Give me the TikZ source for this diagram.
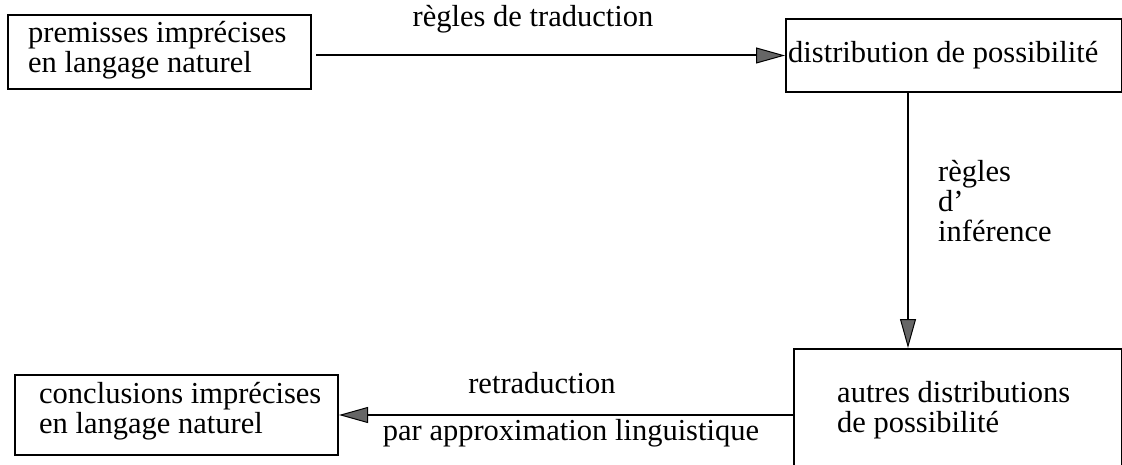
\documentclass[tikz,border=0pt]{standalone}
\usepackage{fontspec}
\setmainfont{Liberation Serif}
\usetikzlibrary{arrows.meta}
\begin{document}
\begin{tikzpicture}[x=1pt,y=-1pt,
  box/.style={draw,line width=2pt,inner sep=0pt,anchor=north west},
  txt/.style={inner sep=0pt,font=\fontsize{30.5}{30}\selectfont,align=left},
  arr/.style={line width=2pt,-{Triangle[length=29pt,width=16pt,fill=black!60,line width=1pt]}}]
\useasboundingbox (0,0) rectangle (1122,465);
\clip (0,0) rectangle (1122,465);
\node[box,minimum width=303pt,minimum height=74pt] (b1) at (7,14) {};
\node[box,minimum width=336pt,minimum height=73pt] (b2) at (785,18) {};
\node[box,minimum width=328pt,minimum height=160pt] (b3) at (793,348) {};
\node[box,minimum width=323pt,minimum height=80pt] (b4) at (14,374) {};
\node[txt,anchor=base west] (t1) at (28,73) {premisses imprécises\\en langage naturel};
\node[txt,anchor=base west] (t2) at (788,63) {distribution de possibilité};
\node[txt,anchor=base west] (t3) at (837,432) {autres distributions\\de possibilité};
\node[txt,anchor=base west] (t4) at (39,433) {conclusions imprécises\\en langage naturel};
\coordinate (v) at (908,0);
\draw[arr,shorten <=4pt] (b1.east |- b2.west) -- (b2.west);
\draw[arr] (v |- b2.south) -- (v |- b3.north);
\draw[arr] (b3.west |- b4.east) -- (b4.east);
\node[txt,anchor=base] (l1) at (533,27) {règles de traduction};
\node[txt,anchor=base west] (l2) at (938,242) {règles\\d’\\inférence};
\node[txt,anchor=base] (l3) at (542,393) {retraduction};
\node[txt,anchor=base] (l4) at (571,440) {par approximation linguistique};
\end{tikzpicture}
\end{document}
